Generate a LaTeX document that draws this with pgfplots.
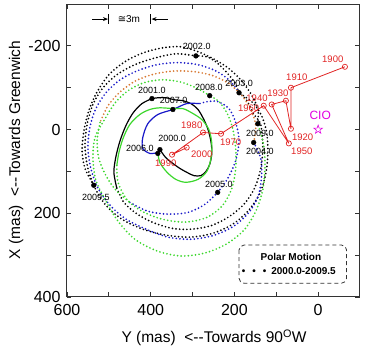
\documentclass[border=0pt]{standalone}
\usepackage{fontspec}
\setmainfont{Liberation Sans}
\newfontfamily\dejavu{DejaVu Sans}
\usepackage{pgfplots}
\pgfplotsset{compat=1.18}
\usetikzlibrary{arrows.meta}
\definecolor{cblue}{RGB}{25,25,200}
\definecolor{cgreen}{RGB}{60,215,45}
\definecolor{corange}{RGB}{215,120,50}
\definecolor{cred}{RGB}{225,35,35}
\definecolor{cmag}{RGB}{225,0,225}
\pgfdeclareplotmark{ostar}{%
 \pgfpathmoveto{\pgfpointpolar{90}{\pgfplotmarksize}}%
 \pgfpathlineto{\pgfpointpolar{126}{0.4\pgfplotmarksize}}%
 \pgfpathlineto{\pgfpointpolar{162}{\pgfplotmarksize}}%
 \pgfpathlineto{\pgfpointpolar{198}{0.4\pgfplotmarksize}}%
 \pgfpathlineto{\pgfpointpolar{234}{\pgfplotmarksize}}%
 \pgfpathlineto{\pgfpointpolar{270}{0.4\pgfplotmarksize}}%
 \pgfpathlineto{\pgfpointpolar{306}{\pgfplotmarksize}}%
 \pgfpathlineto{\pgfpointpolar{342}{0.4\pgfplotmarksize}}%
 \pgfpathlineto{\pgfpointpolar{18}{\pgfplotmarksize}}%
 \pgfpathlineto{\pgfpointpolar{54}{0.4\pgfplotmarksize}}%
 \pgfpathclose\pgfusepathqstroke}
\tikzset{
  dotc/.style={line width=1.9pt, line cap=round, dash pattern=on 0pt off 3.6pt, smooth},
  solc/.style={line width=1.2pt, smooth},
  ylab/.style={font=\fontsize{9}{10}\selectfont},
  rlab/.style={cred, font=\fontsize{9.5}{11}\selectfont},
}
\begin{document}
\begin{tikzpicture}
\path[use as bounding box] (-67pt,-61pt) rectangle (301pt,297pt);
\begin{axis}[
  at={(0pt,0pt)}, anchor=south west,
  scale only axis, width=293pt, height=293pt,
  xmin=-100, xmax=600, ymin=-300, ymax=400,
  x dir=reverse, y dir=reverse,
  xtick={0,200,400,600}, ytick={-200,0,200,400},
  minor x tick num=1, minor y tick num=1,
  tick align=inside, major tick length=4.5pt, minor tick length=4.5pt,
  tick style={line width=0.9pt, color=black!80},
  axis line style={line width=1pt, color=black!80},
  ticklabel style={font=\fontsize{16}{18}\selectfont},
  xticklabel style={yshift=-4pt},
  yticklabel style={xshift=-3pt},
  /pgf/number format/assume math mode=true,
  xlabel={Y (mas)\ \ <-{}-Towards 90\textsuperscript{O}W},
  ylabel={X (mas)\ \ <-{}-Towards Greenwich},
  every axis x label/.style={at={(axis description cs:0.502,-0.140)}, anchor=center, font=\fontsize{15.5}{18}\selectfont},
  every axis y label/.style={at={(axis description cs:-0.174,0.502)}, rotate=90, anchor=center, font=\fontsize{15.5}{18}\selectfont},
  clip=false,
]
% 2000 black solid
\addplot[black, solc] coordinates {(378,48) (364,67) (347,81) (330,93) (314,102) (297,110) (280,110) (268,100) (259,83) (254,57) (256,29) (263,0) (273,-24) (287,-48) (304,-62) (323,-69) (342,-71) (364,-76) (383,-76) (397,-74)};
% 2001
\addplot[black, solc] coordinates {(397,-74) (421,-62) (442,-40) (459,-10) (473,26) (483,64) (488,102) (481,140)};
\addplot[black, dotc] coordinates {(481,140) (464,174) (435,200) (397,221) (349,236) (302,238) (254,229) (211,207) (175,176) (151,138) (137,93) (132,45) (135,2) (139,-17) (156,-40) (170,-69) (189,-90) (199,-112) (218,-136) (242,-160) (266,-174) (292,-176)};
% 2002
\addplot[black, dotc] coordinates {(292,-176) (340,-181) (390,-171) (438,-155) (481,-131) (514,-100) (538,-60) (552,-12) (557,40) (550,93) (533,140) (507,181) (469,214) (419,238) (364,252) (306,257) (252,248) (204,226) (166,193) (139,152) (125,105) (120,55) (123,7) (135,-33) (156,-64) (189,-88)};
% 2003
\addplot[cblue, dotc] coordinates {(189,-88) (211,-117) (244,-140) (287,-155) (335,-160) (385,-155) (433,-140) (473,-119) (507,-88) (531,-50) (545,-7) (550,43) (543,93) (526,140) (497,181) (459,214) (411,238) (359,257) (302,262) (247,252) (199,229) (163,195) (142,155) (135,110) (137,69) (154,31)};
% 2004
\addplot[corange, dotc] coordinates {(154,31) (149,-10) (161,-48) (182,-81) (213,-110) (252,-129) (294,-138) (342,-140) (390,-133) (435,-117) (473,-90) (502,-57) (521,-17)};
\addplot[cgreen, dotc] coordinates {(521,-17) (528,26) (524,69) (507,110) (483,145) (450,174)};
\addplot[cblue, dotc] coordinates {(450,174) (407,195) (359,202) (311,198) (271,179) (240,150)};
% 2005
\addplot[cblue, dotc] coordinates {(240,150) (216,117) (197,74) (189,26) (197,-17) (213,-50) (240,-67) (263,-67) (283,-62)};
\addplot[cblue, solc] coordinates {(283,-62) (314,-62) (347,-48) (383,-36) (407,-14) (419,19) (419,45) (402,57) (383,55)};
% 2006
\addplot[cgreen, solc] coordinates {(383,55) (378,79) (361,102) (340,119) (316,126) (287,119) (266,100) (256,69) (254,33) (261,0) (278,-24) (302,-40) (323,-50) (347,-50)};
% 2007
\addplot[cgreen, solc] coordinates {(347,-50) (378,-52) (402,-48) (426,-36) (450,-12) (466,21) (476,55) (481,86)};
\addplot[cgreen, dotc] coordinates {(481,86) (478,126) (457,167) (421,195) (373,214) (318,221) (266,210) (228,181) (206,140) (197,93) (197,45) (204,-2) (218,-40) (237,-67) (259,-81)};
% 2008
\addplot[cgreen, dotc] coordinates {(259,-81) (292,-100) (330,-114) (373,-119) (416,-112) (454,-93) (485,-64) (509,-26) (533,19) (538,69) (531,121) (507,171) (478,219) (438,262) (385,290) (328,302) (271,295) (220,274) (177,240) (149,195) (132,143) (127,88) (130,38) (144,-14)};
% 2009
\addplot[black, dotc] coordinates {(144,-14) (144,-50) (161,-86) (185,-119) (216,-148) (254,-171) (292,-188) (330,-198) (373,-195) (419,-183) (462,-162) (500,-131) (528,-90) (547,-48) (559,0) (564,50) (557,93) (536,133)};
% mean pole path
\addplot[cred, line width=0.8pt, mark=o, mark size=2.6pt, mark options={line width=0.7pt}] coordinates {(-64,-150) (65,-100) (65,-2) (77,-69) (111,-60) (70,33) (130,-57) (232,10) (275,7) (349,60) (314,43)};
% year dots
\addplot[black, only marks, mark=*, mark size=2.4pt] coordinates {(378,48) (397,-74) (292,-176) (189,-88) (154,31) (240,150) (383,57) (347,-48) (259,-81) (144,-14) (536,133)};
% CIO
\addplot[cmag, only marks, mark=ostar, mark size=4.5pt, mark options={line width=0.6pt}] coordinates {(0,0)};
% labels
\node[ylab] at (axis cs:290,-198) {2002.0};
\node[ylab] at (axis cs:189,-110) {2003.0};
\node[ylab] at (axis cs:261,-100) {2008.0};
\node[ylab] at (axis cs:397,-93) {2001.0};
\node[ylab] at (axis cs:345,-69) {2007.0};
\node[ylab] at (axis cs:349,21) {2000.0};
\node[ylab] at (axis cs:426,45) {2006.0};
\node[ylab] at (axis cs:139,10) {2009.0};
\node[ylab] at (axis cs:139,52) {2004.0};
\node[ylab] at (axis cs:237,131) {2005.0};
\node[ylab] at (axis cs:531,162) {2009.5};
\node[rlab] at (axis cs:-35,-169) {1900};
\node[rlab] at (axis cs:51,-124) {1910};
\node[rlab] at (axis cs:37,19) {1920};
\node[rlab] at (axis cs:96,-86) {1930};
\node[rlab] at (axis cs:146,-74) {1940};
\node[rlab] at (axis cs:39,52) {1950};
\node[rlab] at (axis cs:166,-50) {1960};
\node[rlab] at (axis cs:209,31) {1970};
\node[rlab] at (axis cs:302,-10) {1980};
\node[rlab] at (axis cs:364,81) {1990};
\node[rlab] at (axis cs:278,60) {2000};
\node[cmag, font=\fontsize{12}{14}\selectfont] at (axis cs:-5,-33) {CIO};
% 3m annotation
\draw[-{Stealth[length=5pt,width=4pt]}, line width=0.8pt] (axis cs:540,-264) -- (axis cs:502,-264);
\draw[line width=0.8pt] (axis cs:500,-276) -- (axis cs:500,-252);
\draw[-{Stealth[length=5pt,width=4pt]}, line width=0.8pt] (axis cs:359,-264) -- (axis cs:398,-264);
\draw[line width=0.8pt] (axis cs:400,-276) -- (axis cs:400,-252);
\node[font=\fontsize{10}{12}\selectfont] at (axis cs:452,-264) {{\dejavu ≅}3m};
% legend box
\draw[line width=0.8pt, black!80, dash pattern=on 4pt off 3pt, rounded corners=5pt] (axis cs:189,276) rectangle (axis cs:-68,367);
\node[font=\bfseries\fontsize{10}{12}\selectfont] at (axis cs:65,305) {Polar Motion};
\node[font=\bfseries\fontsize{10}{12}\selectfont] at (axis cs:70,338) {\textbullet\hspace{7pt}\textbullet\hspace{7pt}\textbullet\hspace{5pt}2000.0-2009.5};
\end{axis}
\end{tikzpicture}
\end{document}
